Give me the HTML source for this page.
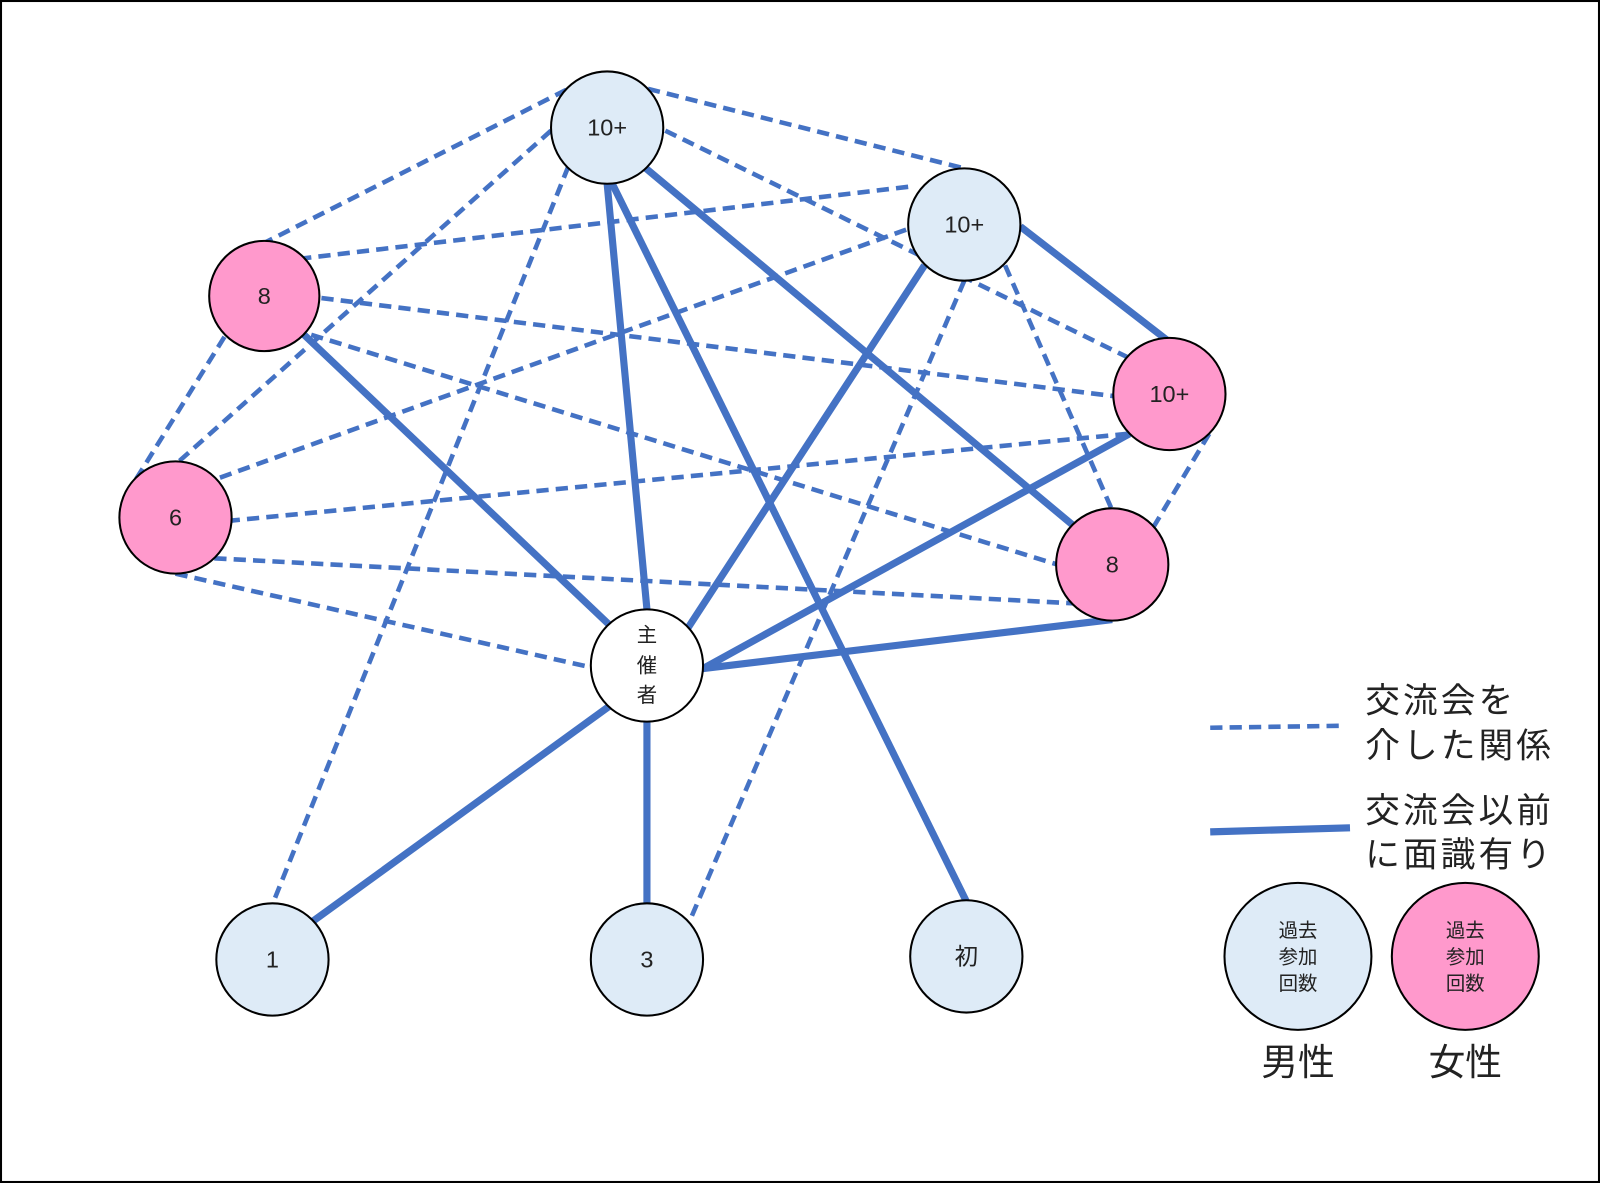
<!DOCTYPE html>
<html><head><meta charset="utf-8"><style>
html,body{margin:0;padding:0;background:#fff}
svg{display:block}
text{font-family:"Liberation Sans","Noto Sans CJK JP",sans-serif;fill:#222}
</style></head><body>
<svg width="1600" height="1183" viewBox="0 0 1568 1159" preserveAspectRatio="none" xmlns="http://www.w3.org/2000/svg">
<rect x="1" y="1" width="1566" height="1157" fill="#fff" stroke="#000" stroke-width="2"/>
<g stroke="#4472C4" stroke-width="4.5" stroke-dasharray="12,7" fill="none">
<line x1="555" y1="88" x2="259" y2="238"/>
<line x1="540" y1="128" x2="172" y2="455"/>
<line x1="557" y1="163" x2="267" y2="886"/>
<line x1="635" y1="87" x2="945" y2="165"/>
<line x1="652" y1="128" x2="1105" y2="350"/>
<line x1="890" y1="183" x2="298" y2="253"/>
<line x1="888" y1="225" x2="210" y2="470"/>
<line x1="985" y1="260" x2="1090" y2="500"/>
<line x1="945" y1="275" x2="676" y2="902"/>
<line x1="315" y1="292" x2="1091" y2="388"/>
<line x1="305" y1="328" x2="1036" y2="553"/>
<line x1="220" y1="330" x2="133" y2="470"/>
<line x1="1105" y1="425" x2="227" y2="510"/>
<line x1="1185" y1="425" x2="1130" y2="517"/>
<line x1="210" y1="547" x2="1070" y2="592"/>
<line x1="172" y1="562" x2="580" y2="654"/>
<line x1="1186" y1="713" x2="1318" y2="711"/>
</g>
<g stroke="#4472C4" stroke-width="7" fill="none">
<line x1="595" y1="180" x2="634" y2="597"/>
<line x1="600" y1="180" x2="947" y2="883"/>
<line x1="633" y1="165" x2="1052" y2="515"/>
<line x1="906" y1="260" x2="673" y2="617"/>
<line x1="1000" y1="222" x2="1146" y2="335"/>
<line x1="298" y1="328" x2="597" y2="612"/>
<line x1="1107" y1="425" x2="689" y2="655"/>
<line x1="1090" y1="607" x2="689" y2="655"/>
<line x1="597" y1="692" x2="306" y2="903"/>
<line x1="634" y1="707" x2="634" y2="886"/>
<line x1="1186" y1="815" x2="1323" y2="811"/>
</g>
<g stroke="#000" stroke-width="2">
<circle cx="595" cy="125" r="55" fill="#DEEBF7"/>
<circle cx="945" cy="220" r="55" fill="#DEEBF7"/>
<circle cx="259" cy="290" r="54" fill="#FF99CC"/>
<circle cx="1146" cy="386" r="55" fill="#FF99CC"/>
<circle cx="172" cy="507" r="55" fill="#FF99CC"/>
<circle cx="1090" cy="553" r="55" fill="#FF99CC"/>
<circle cx="634" cy="652" r="55" fill="#fff"/>
<circle cx="267" cy="940" r="55" fill="#DEEBF7"/>
<circle cx="634" cy="940" r="55" fill="#DEEBF7"/>
<circle cx="947" cy="937" r="55" fill="#DEEBF7"/>
<circle cx="1272" cy="937" r="72" fill="#DEEBF7"/>
<circle cx="1436" cy="937" r="72" fill="#FF99CC"/>
</g>
<g font-size="23" text-anchor="middle">
<text x="595" y="133">10+</text>
<text x="945" y="228">10+</text>
<text x="259" y="298">8</text>
<text x="1146" y="394">10+</text>
<text x="172" y="515">6</text>
<text x="1090" y="561">8</text>
<text x="267" y="948">1</text>
<text x="634" y="948">3</text>
<text x="947" y="945">初</text>
</g>
<g font-size="20" text-anchor="middle">
<text x="634" y="629">主</text>
<text x="634" y="659">催</text>
<text x="634" y="688">者</text>
</g>
<g font-size="19" text-anchor="middle">
<text x="1272" y="918">過去</text>
<text x="1272" y="944">参加</text>
<text x="1272" y="970">回数</text>
<text x="1436" y="918">過去</text>
<text x="1436" y="944">参加</text>
<text x="1436" y="970">回数</text>
</g>
<g font-size="34" letter-spacing="3">
<text x="1338" y="698">交流会を</text>
<text x="1338" y="742">介した関係</text>
<text x="1338" y="806">交流会以前</text>
<text x="1338" y="849">に面識有り</text>
</g>
<g font-size="36" text-anchor="middle">
<text x="1272" y="1053">男性</text>
<text x="1436" y="1053">女性</text>
</g>
</svg>
</body></html>
